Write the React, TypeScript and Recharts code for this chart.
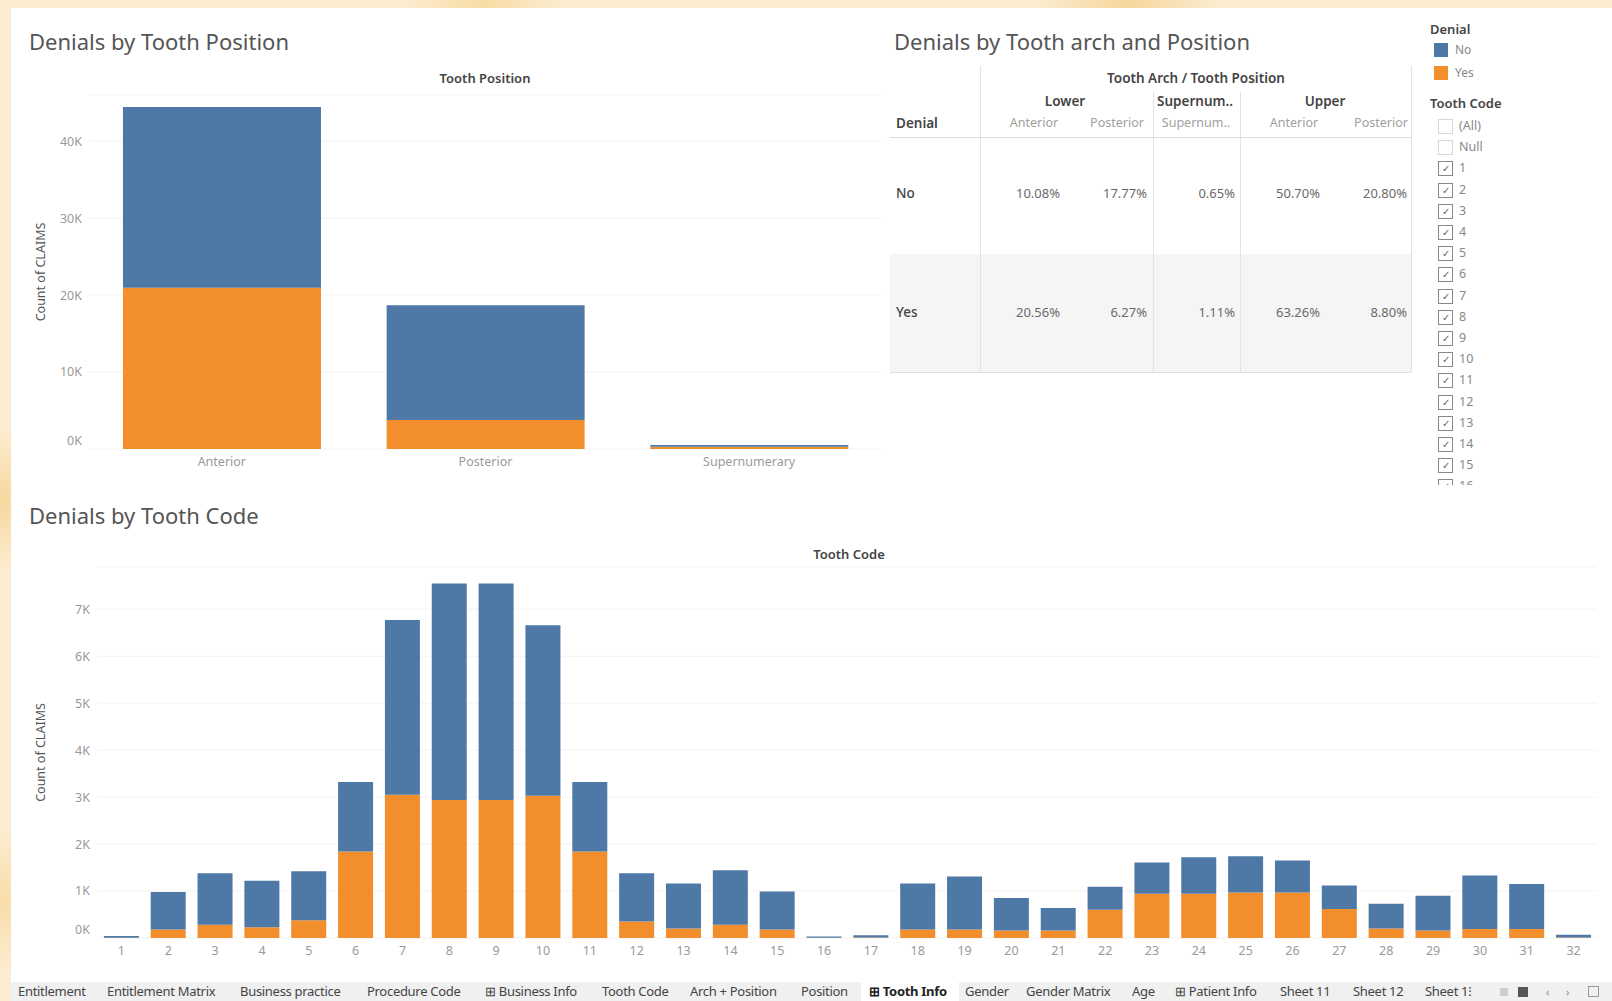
import React from 'react';
import { BarChart, Bar, XAxis, YAxis, CartesianGrid, Label } from 'recharts';

const BLUE = '#4e79a7';
const ORANGE = '#f28e2b';
const FONT = '"Noto Sans", "Open Sans", sans-serif';

// ---- Denials by Tooth Position ----
const positionCategories = ['Anterior', 'Posterior', 'Supernumerary'];
const positionNo = [23500, 14900, 250];
const positionYes = [20950, 3770, 280];
const positionTicks = [0, 10000, 20000, 30000, 40000];

// ---- Denials by Tooth Code ----
const toothCodes = ['1','2','3','4','5','6','7','8','9','10','11','12','13','14','15','16','17','18','19','20','21','22','23','24','25','26','27','28','29','30','31','32'];
const toothNo = [35, 800, 1100, 990, 1040, 1480, 3720, 4610, 4610, 3630, 1480, 1030, 960, 1160, 810, 25, 50, 980, 1130, 690, 480, 490, 670, 780, 770, 680, 500, 530, 740, 1140, 960, 60];
const toothYes = [5, 180, 280, 230, 380, 1840, 3050, 2940, 2940, 3030, 1840, 350, 200, 280, 180, 5, 10, 180, 180, 160, 160, 600, 940, 940, 970, 970, 620, 200, 160, 190, 190, 10];
const toothTicks = [0, 1000, 2000, 3000, 4000, 5000, 6000, 7000];

// ---- Denials by Tooth arch and Position (table) ----
const archGroups = ['Lower', 'Supernum..', 'Upper'];
const archSubColumns = ['Anterior', 'Posterior', 'Supernum..', 'Anterior', 'Posterior'];
const denialRows = ['No', 'Yes'];
const tableNo = ['10.08%', '17.77%', '0.65%', '50.70%', '20.80%'];
const tableYes = ['20.56%', '6.27%', '1.11%', '63.26%', '8.80%'];

// ---- Filters / tabs ----
const legendItems = ['No', 'Yes'];
const filterItems = ['(All)', 'Null', '1','2','3','4','5','6','7','8','9','10','11','12','13','14','15','16'];
const tabNames = ['Entitlement', 'Entitlement Matrix', 'Business practice', 'Procedure Code', '⊞ Business Info', 'Tooth Code', 'Arch + Position', 'Position', '⊞ Tooth Info', 'Gender', 'Gender Matrix', 'Age', '⊞ Patient Info', 'Sheet 11', 'Sheet 12', 'Sheet 1⁝'];

const positionData = positionCategories.map((c, i) => ({ name: c, No: positionNo[i], Yes: positionYes[i] }));
const toothData = toothCodes.map((c, i) => ({ name: c, No: toothNo[i], Yes: toothYes[i] }));

const kFmt = (v: number) => `${Math.round(v / 1000)}K`;
const tickStyle = { fill: '#9a9a9a', fontSize: 12.5, fontFamily: FONT };

const YTick = (props: any) => {
  const { x, y, payload } = props;
  const shift = payload.value === 0 ? -8 : 0;
  return (
    <text x={x} y={y + shift} dy="0.355em" textAnchor="end" fill="#9a9a9a" fontSize={12.5} fontFamily={FONT}>
      {kFmt(payload.value)}
    </text>
  );
};

const abs = (left: number, top: number, extra: React.CSSProperties = {}): React.CSSProperties => ({
  position: 'absolute', left, top, ...extra,
});

function Table() {
  const colRight = [1060, 1147, 1235, 1320, 1407];
  const subCenters = [1034, 1117, 1196, 1294, 1381];
  const groupCenters = [1065, 1195, 1325];
  const hdr: React.CSSProperties = { fontSize: 13.5, color: '#444', fontWeight: 600, whiteSpace: 'nowrap' };
  const sub: React.CSSProperties = { fontSize: 12.5, color: '#a0a0a0', whiteSpace: 'nowrap' };
  const val: React.CSSProperties = { fontSize: 13, color: '#6a6a6a', whiteSpace: 'nowrap' };
  return (
    <>
      <div style={abs(890, 254, { width: 521, height: 118, background: '#f5f5f5' })} />
      <div style={abs(980, 66, { width: 1, height: 306, background: '#e2e2e2' })} />
      <div style={abs(1411, 66, { width: 1, height: 306, background: '#e2e2e2' })} />
      <div style={abs(1153, 92, { width: 1, height: 280, background: '#e2e2e2' })} />
      <div style={abs(1240, 92, { width: 1, height: 280, background: '#e2e2e2' })} />
      <div style={abs(890, 137, { width: 521, height: 1, background: '#dcdcdc' })} />
      <div style={abs(890, 372, { width: 521, height: 1, background: '#dcdcdc' })} />
      <div style={abs(1196, 69, { ...hdr, transform: 'translateX(-50%)' })}>Tooth Arch / Tooth Position</div>
      {archGroups.map((g, i) => (
        <div key={g} style={abs(groupCenters[i], 92, { ...hdr, transform: 'translateX(-50%)' })}>{g}</div>
      ))}
      <div style={abs(896, 114, hdr)}>Denial</div>
      {archSubColumns.map((s, i) => (
        <div key={i} style={abs(subCenters[i], 114, { ...sub, transform: 'translateX(-50%)' })}>{s}</div>
      ))}
      {denialRows.map((r, ri) => {
        const top = ri === 0 ? 184 : 303;
        const vals = ri === 0 ? tableNo : tableYes;
        return (
          <React.Fragment key={r}>
            <div style={abs(896, top, { ...hdr, fontWeight: 500 })}>{r}</div>
            {vals.map((v, i) => (
              <div key={i} style={abs(colRight[i], top, { ...val, transform: 'translateX(-100%)' })}>{v}</div>
            ))}
          </React.Fragment>
        );
      })}
    </>
  );
}

function Legend() {
  const colors = [BLUE, ORANGE];
  return (
    <>
      <div style={abs(1430, 20, { fontSize: 13, color: '#444', fontWeight: 600 })}>Denial</div>
      {legendItems.map((l, i) => (
        <React.Fragment key={l}>
          <div style={abs(1434, 43 + i * 23, { width: 14, height: 14, background: colors[i] })} />
          <div style={abs(1455, 41 + i * 23, { fontSize: 12, color: '#888' })}>{l}</div>
        </React.Fragment>
      ))}
      <div style={abs(1430, 94, { fontSize: 13, color: '#444', fontWeight: 600 })}>Tooth Code</div>
      <div style={abs(1430, 115, { width: 120, height: 370, overflow: 'hidden' })}>
        {filterItems.map((f, i) => {
          const checked = i >= 2;
          return (
            <div key={f} style={abs(0, 4 + i * 21.2, { height: 18, width: 110 })}>
              <div style={abs(8, 0, {
                width: 13, height: 13, border: `1px solid ${checked ? '#888' : '#d8d8d8'}`, background: '#fff',
                fontSize: 10, lineHeight: '13px', textAlign: 'center', color: '#666',
              })}>{checked ? '✓' : ''}</div>
              <div style={abs(29, -2, { fontSize: 12.5, color: '#888' })}>{f}</div>
            </div>
          );
        })}
      </div>
    </>
  );
}

function TabBar() {
  const xs = [18, 107, 240, 367, 485, 602, 690, 801, 869, 965, 1026, 1132, 1175, 1280, 1353, 1425];
  return (
    <div style={abs(11, 982, { width: 1601, height: 19, background: '#f0f0f0' })}>
      <div style={abs(861 - 11, 0, { width: 98, height: 19, background: '#ffffff' })} />
      {tabNames.map((t, i) => (
        <div key={t} style={abs(xs[i] - 11, 0, {
          fontSize: 13, color: i === 8 ? '#222' : '#444', fontWeight: i === 8 ? 700 : 400, whiteSpace: 'nowrap',
          letterSpacing: -0.3,
        })}>{t}</div>
      ))}
      <div style={abs(1500 - 11, 6, { width: 8, height: 8, background: '#ccc' })} />
      <div style={abs(1518 - 11, 5, { width: 10, height: 10, background: '#555' })} />
      <div style={abs(1546 - 11, 2, { fontSize: 11, color: '#888' })}>‹</div>
      <div style={abs(1566 - 11, 2, { fontSize: 11, color: '#888' })}>›</div>
      <div style={abs(1588 - 11, 4, { width: 9, height: 9, border: '1px solid #999' })} />
    </div>
  );
}

export default function App() {
  const bg = [
    'radial-gradient(circle at 5% 10%, #f7d9a0 0, transparent 60px)',
    'radial-gradient(circle at 30% 0%, #f8dca5 0, transparent 80px)',
    'radial-gradient(circle at 70% 0%, #f6d69c 0, transparent 90px)',
    'radial-gradient(circle at 0% 50%, #f6d89e 0, transparent 70px)',
    'radial-gradient(circle at 0% 90%, #f8dda8 0, transparent 70px)',
    '#fcecd0',
  ].join(',');
  const titleStyle: React.CSSProperties = { fontSize: 22, color: '#555', whiteSpace: 'nowrap' };
  const headStyle: React.CSSProperties = { fontSize: 13, color: '#444', fontWeight: 600, transform: 'translateX(-50%)', whiteSpace: 'nowrap' };
  return (
    <div style={{ position: 'fixed', left: 0, top: 0, width: 1612, height: 1001, background: bg, fontFamily: FONT, overflow: 'hidden' }}>
      <div style={abs(11, 8, { width: 1601, height: 974, background: '#ffffff' })} />

      {/* Top-left chart */}
      <div style={abs(29, 26, titleStyle)}>Denials by Tooth Position</div>
      <div style={abs(485, 69, headStyle)}>Tooth Position</div>
      <div style={abs(0, 0)}>
        <BarChart width={890} height={480} data={positionData} barCategoryGap="12.5%"
          margin={{ top: 95, right: 9, left: 0, bottom: 0 }}>
          <CartesianGrid vertical={false} stroke="#f3f3f3" />
          <XAxis dataKey="name" axisLine={false} tickLine={false} height={31} tick={tickStyle} interval={0} />
          <YAxis width={90} domain={[0, 46000]} ticks={positionTicks}
            axisLine={false} tickLine={false} tick={<YTick />}>
            <Label value="Count of CLAIMS" angle={-90} position="center" dx={-4}
              style={{ fill: '#555', fontSize: 12.5, fontFamily: FONT }} />
          </YAxis>
          <Bar dataKey="Yes" stackId="a" fill={ORANGE} isAnimationActive={false} />
          <Bar dataKey="No" stackId="a" fill={BLUE} isAnimationActive={false} />
        </BarChart>
      </div>

      {/* Top-right table */}
      <div style={abs(894, 26, titleStyle)}>Denials by Tooth arch and Position</div>
      <Table />
      <Legend />

      {/* Bottom chart */}
      <div style={abs(29, 500, titleStyle)}>Denials by Tooth Code</div>
      <div style={abs(849, 545, headStyle)}>Tooth Code</div>
      <div style={abs(0, 500)}>
        <BarChart width={1612} height={470} data={toothData} barCategoryGap="12.5%"
          margin={{ top: 67, right: 15, left: 0, bottom: 7 }}>
          <CartesianGrid vertical={false} stroke="#f3f3f3" />
          <XAxis dataKey="name" axisLine={false} tickLine={false} height={25} tick={tickStyle} interval={0} />
          <YAxis width={98} domain={[0, 7900]} ticks={toothTicks}
            axisLine={false} tickLine={false} tick={<YTick />}>
            <Label value="Count of CLAIMS" angle={-90} position="center" dx={-8}
              style={{ fill: '#555', fontSize: 12.5, fontFamily: FONT }} />
          </YAxis>
          <Bar dataKey="Yes" stackId="a" fill={ORANGE} isAnimationActive={false} />
          <Bar dataKey="No" stackId="a" fill={BLUE} isAnimationActive={false} />
        </BarChart>
      </div>

      <TabBar />
    </div>
  );
}
